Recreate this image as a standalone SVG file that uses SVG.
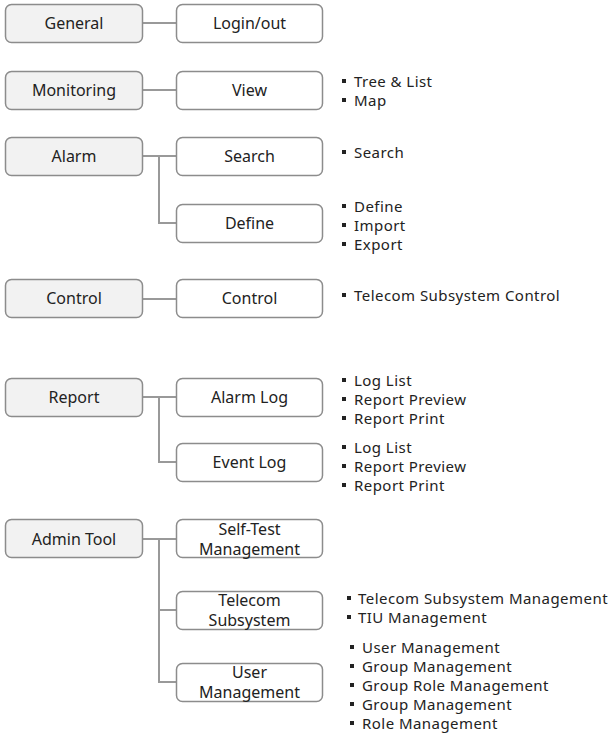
<svg xmlns="http://www.w3.org/2000/svg" width="611" height="735" viewBox="0 0 611 735">
<style>
.l{fill:#f2f2f2;stroke:#8c8c8c;stroke-width:1.5}
.r{fill:#fff;stroke:#8c8c8c;stroke-width:1.5}
.t{font-family:"Noto Sans","Open Sans",sans-serif;font-size:16px;fill:#222;text-anchor:middle}
.b{font-family:"Noto Sans","Open Sans",sans-serif;font-size:15px;letter-spacing:0.45px;fill:#222}
.c{fill:none;stroke:#999;stroke-width:2}
.d{fill:#222}
</style>
<rect width="611" height="735" fill="#fff"/>
<g id="connectors">
<path class="c" d="M143 23H176"/>
<path class="c" d="M143 90H176"/>
<path class="c" d="M143 156H176M159 156V223H176"/>
<path class="c" d="M143 299H176"/>
<path class="c" d="M143 397H176M159 397V462H176"/>
<path class="c" d="M143 539H176M159 539V610H176M159 610V682H176"/>
</g>
<g id="general"><rect class="l" x="5.5" y="4.5" width="137" height="38" rx="6"/><text class="t" x="74" y="29">General</text></g>
<g id="loginout"><rect class="r" x="176.5" y="4.5" width="146" height="38" rx="6"/><text class="t" x="249.5" y="29">Login/out</text></g>
<g id="monitoring"><rect class="l" x="5.5" y="71.5" width="137" height="38" rx="6"/><text class="t" x="74" y="96">Monitoring</text></g>
<g id="view"><rect class="r" x="176.5" y="71.5" width="146" height="38" rx="6"/><text class="t" x="249.5" y="96">View</text></g>
<g id="alarm"><rect class="l" x="5.5" y="137.5" width="137" height="38" rx="6"/><text class="t" x="74" y="162">Alarm</text></g>
<g id="search"><rect class="r" x="176.5" y="137.5" width="146" height="38" rx="6"/><text class="t" x="249.5" y="162">Search</text></g>
<g id="define"><rect class="r" x="176.5" y="204.5" width="146" height="38" rx="6"/><text class="t" x="249.5" y="229">Define</text></g>
<g id="control-l"><rect class="l" x="5.5" y="279.5" width="137" height="38" rx="6"/><text class="t" x="74" y="304">Control</text></g>
<g id="control-r"><rect class="r" x="176.5" y="279.5" width="146" height="38" rx="6"/><text class="t" x="249.5" y="304">Control</text></g>
<g id="report"><rect class="l" x="5.5" y="378.5" width="137" height="38" rx="6"/><text class="t" x="74" y="403">Report</text></g>
<g id="alarmlog"><rect class="r" x="176.5" y="378.5" width="146" height="38" rx="6"/><text class="t" x="249.5" y="403">Alarm Log</text></g>
<g id="eventlog"><rect class="r" x="176.5" y="443.5" width="146" height="38" rx="6"/><text class="t" x="249.5" y="468">Event Log</text></g>
<g id="admintool"><rect class="l" x="5.5" y="519.5" width="137" height="38" rx="6"/><text class="t" x="74" y="545">Admin Tool</text></g>
<g id="selftest"><rect class="r" x="176.5" y="519.5" width="146" height="38" rx="6"/><text class="t" x="249.5" y="535">Self-Test</text><text class="t" x="249.5" y="555">Management</text></g>
<g id="telecom"><rect class="r" x="176.5" y="591.5" width="146" height="38" rx="6"/><text class="t" x="249.5" y="606">Telecom</text><text class="t" x="249.5" y="626">Subsystem</text></g>
<g id="user"><rect class="r" x="176.5" y="663.5" width="146" height="38" rx="6"/><text class="t" x="249.5" y="678">User</text><text class="t" x="249.5" y="698">Management</text></g>
<g id="notes">
<rect class="d" x="342" y="79" width="4" height="4"/><text class="b" x="354" y="87">Tree &amp; List</text>
<rect class="d" x="342" y="98" width="4" height="4"/><text class="b" x="354" y="106">Map</text>
<rect class="d" x="342" y="150" width="4" height="4"/><text class="b" x="354" y="158">Search</text>
<rect class="d" x="342" y="204" width="4" height="4"/><text class="b" x="354" y="212">Define</text>
<rect class="d" x="342" y="223" width="4" height="4"/><text class="b" x="354" y="231">Import</text>
<rect class="d" x="342" y="242" width="4" height="4"/><text class="b" x="354" y="250">Export</text>
<rect class="d" x="342" y="293" width="4" height="4"/><text class="b" x="354" y="301">Telecom Subsystem Control</text>
<rect class="d" x="342" y="378" width="4" height="4"/><text class="b" x="354" y="386">Log List</text>
<rect class="d" x="342" y="397" width="4" height="4"/><text class="b" x="354" y="405">Report Preview</text>
<rect class="d" x="342" y="416" width="4" height="4"/><text class="b" x="354" y="424">Report Print</text>
<rect class="d" x="342" y="445" width="4" height="4"/><text class="b" x="354" y="453">Log List</text>
<rect class="d" x="342" y="464" width="4" height="4"/><text class="b" x="354" y="472">Report Preview</text>
<rect class="d" x="342" y="483" width="4" height="4"/><text class="b" x="354" y="491">Report Print</text>
<rect class="d" x="347" y="596" width="4" height="4"/><text class="b" x="358" y="604">Telecom Subsystem Management</text>
<rect class="d" x="347" y="615" width="4" height="4"/><text class="b" x="358" y="623">TIU Management</text>
<rect class="d" x="350" y="645" width="4" height="4"/><text class="b" x="362" y="653">User Management</text>
<rect class="d" x="350" y="664" width="4" height="4"/><text class="b" x="362" y="672">Group Management</text>
<rect class="d" x="350" y="683" width="4" height="4"/><text class="b" x="362" y="691">Group Role Management</text>
<rect class="d" x="350" y="702" width="4" height="4"/><text class="b" x="362" y="710">Group Management</text>
<rect class="d" x="350" y="721" width="4" height="4"/><text class="b" x="362" y="729">Role Management</text>
</g>
</svg>
